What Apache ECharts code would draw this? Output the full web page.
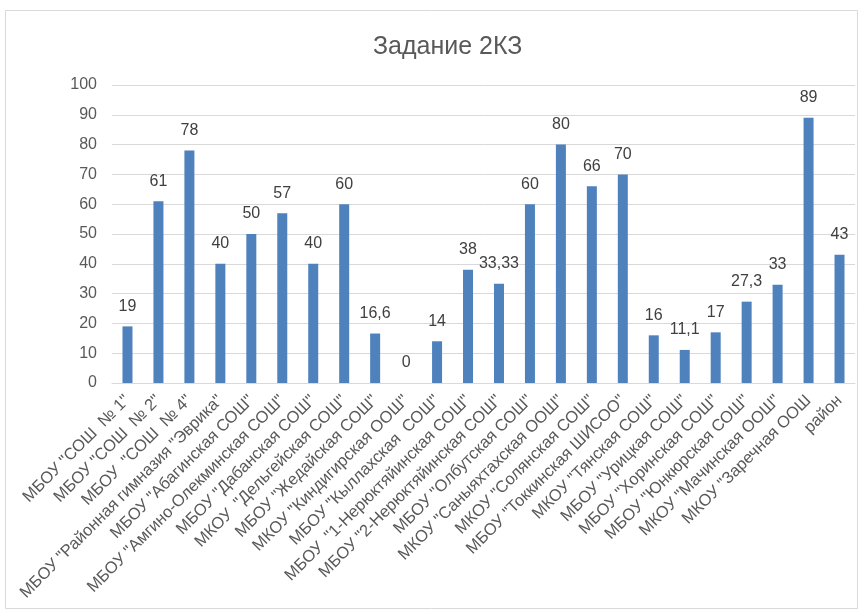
<!DOCTYPE html>
<html>
<head>
<meta charset="utf-8">
<script src="https://cdn.jsdelivr.net/npm/echarts@6/dist/echarts.min.js"></script>
<style>html,body{margin:0;padding:0;background:#fff}#c{width:864px;height:613px}</style>
</head>
<body>
<div id="c"></div>
<script>
const categories = [
  'МБОУ "СОШ  № 1"',
  'МБОУ "СОШ  № 2"',
  'МБОУ  "СОШ  № 4"',
  'МБОУ "Районная гимназия "Эврика"',
  'МБОУ "Абагинская СОШ"',
  'МБОУ "Амгино-Олекминская СОШ"',
  'МБОУ "Дабанская СОШ"',
  'МКОУ  "Дельгейская СОШ"',
  'МБОУ "Жедайская СОШ"',
  'МКОУ "Киндигирская ООШ"',
  'МБОУ "Кыллахская  СОШ"',
  'МБОУ  "1-Нерюктяйинская СОШ"',
  'МБОУ "2-Нерюктяйинская СОШ"',
  'МБОУ "Олбутская СОШ"',
  'МКОУ "Саныяхтахская ООШ"',
  'МКОУ "Солянская СОШ"',
  'МБОУ "Токкинская ШИСОО"',
  'МКОУ "Тянская СОШ"',
  'МБОУ "Урицкая СОШ"',
  'МБОУ "Хоринская СОШ"',
  'МБОУ "Юнкюрская СОШ"',
  'МКОУ "Мачинская ООШ"',
  'МКОУ "Заречная ООШ',
  'район'
];
const values = [19, 61, 78, 40, 50, 57, 40, 60, 16.6, 0, 14, 38, 33.33, 60, 80, 66, 70, 16, 11.1, 17, 27.3, 33, 89, 43];
const yTicks = { min: 0, max: 100, interval: 10 };

const FONT = '"Liberation Sans", Arial, sans-serif';
const chart = echarts.init(document.getElementById('c'));
chart.setOption({
  animation: false,
  backgroundColor: '#fff',
  title: {
    text: 'Задание 2КЗ',
    left: 368,
    top: 30,
    textStyle: { fontFamily: FONT, fontSize: 25, fontWeight: 'normal', color: '#595959' }
  },
  graphic: [{
    type: 'rect',
    shape: { x: 5.5, y: 10.5, width: 852, height: 598 },
    style: { fill: 'none', stroke: '#d9d9d9', lineWidth: 1 },
    silent: true, z: -1
  }],
  grid: { left: 112, right: 9, top: 85, bottom: 230 },
  xAxis: {
    type: 'category',
    data: categories,
    axisLine: { lineStyle: { color: '#d9d9d9' } },
    axisTick: { show: false },
    axisLabel: {
      interval: 0,
      rotate: 45,
      fontFamily: FONT,
      fontSize: 16.5,
      color: '#595959',
      margin: 15
    }
  },
  yAxis: {
    type: 'value',
    min: yTicks.min, max: yTicks.max, interval: yTicks.interval,
    axisLine: { show: false },
    axisTick: { show: false },
    splitLine: { lineStyle: { color: '#d9d9d9' } },
    axisLabel: { fontFamily: FONT, fontSize: 16, color: '#595959', margin: 15 }
  },
  series: [{
    type: 'bar',
    data: values,
    barWidth: 10,
    itemStyle: { color: '#4f81bd' },
    label: {
      show: true,
      position: 'top',
      distance: 12,
      fontFamily: FONT,
      fontSize: 16,
      color: '#404040',
      formatter: p => String(p.value).replace('.', ',')
    }
  }]
});
</script>
</body>
</html>
